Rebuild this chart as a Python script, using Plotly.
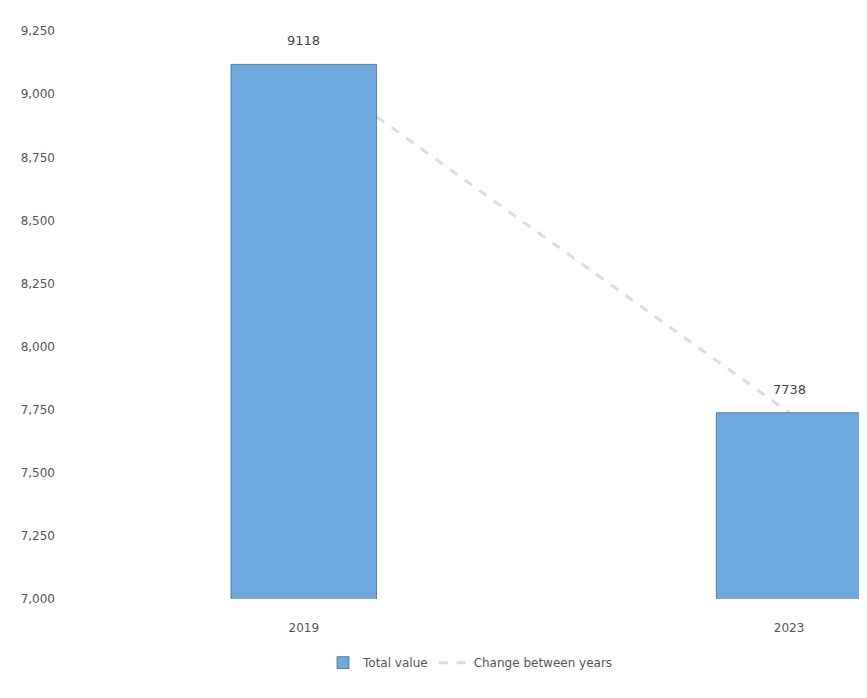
import plotly.graph_objects as go

categories = ["2019", "2023"]
values = [9118, 7738]
tick_vals = [7000, 7250, 7500, 7750, 8000, 8250, 8500, 8750, 9000, 9250]
tick_text = ["7,000", "7,250", "7,500", "7,750", "8,000", "8,250", "8,500", "8,750", "9,000", "9,250"]
bar_name = "Total value"
line_name = "Change between years"

x_range = [-0.49, 1.177]
y_range = [7000, 9290]

fig = go.Figure()
fig.add_trace(go.Scatter(
    x=categories, y=values, mode="lines", name=line_name,
    line=dict(color="#dcdcdc", width=3, dash="dash"),
))
fig.add_trace(go.Bar(
    x=categories, y=values, name=bar_name, width=0.3, xaxis="x2", yaxis="y2",
    marker=dict(color="#6fa8dc", line=dict(color="rgba(70,90,110,0.7)", width=1)),
))
for i, v in enumerate(values):
    fig.add_annotation(x=i, y=v, text=f"{v}", showarrow=False, yanchor="bottom",
                       yshift=14, font=dict(size=13, color="#444"), bgcolor="white")
fig.update_layout(
    width=867, height=698,
    margin=dict(l=58, r=0, t=13, b=107),
    paper_bgcolor="white", plot_bgcolor="white",
    font=dict(family="DejaVu Sans", size=12, color="#555"),
    showlegend=True,
    legend=dict(orientation="h", x=0.5, xanchor="center", y=-0.085, yanchor="top",
                traceorder="reversed", font=dict(size=12, color="#555")),
    xaxis=dict(type="category", categoryarray=categories, range=x_range, showgrid=False,
               showline=False, ticks="", ticklabelstandoff=20,
               tickfont=dict(size=12, color="#555")),
    yaxis=dict(range=y_range, tickvals=tick_vals, ticktext=tick_text,
               showgrid=False, zeroline=False, showline=False, ticklabelstandoff=10,
               tickfont=dict(size=12, color="#555")),
    xaxis2=dict(type="category", categoryarray=categories, range=x_range, overlaying="x",
                visible=False),
    yaxis2=dict(range=y_range, overlaying="y", visible=False),
)
fig.write_html("out.html")
